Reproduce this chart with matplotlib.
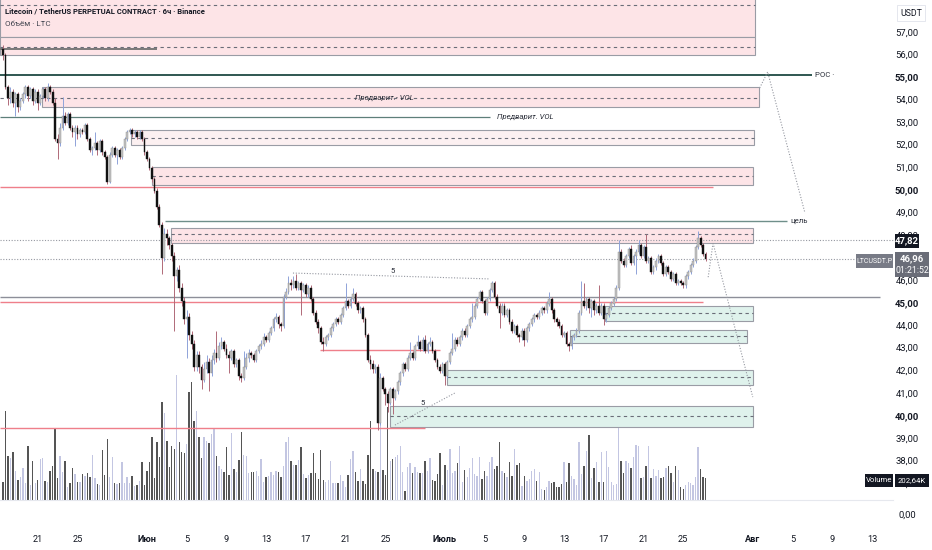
import datetime as dt
import numpy as np
import matplotlib
matplotlib.use('Agg')
import matplotlib.pyplot as plt
from matplotlib.patches import Rectangle
from matplotlib.transforms import blended_transform_factory

plt.rcParams['font.family'] = ['Roboto', 'DejaVu Sans']

# --- data: LTCUSDT.P, 6h candles ---
first_candle = dt.datetime(2022, 5, 17, 12)
first_open = 56.3

closes = [
    56.0, 54.6, 54.1, 54.4,  53.9, 54.3, 53.7, 54.0,  54.3, 54.6, 54.2, 54.5,
    54.0, 54.4, 53.9, 54.2,  54.5, 54.1, 54.6, 54.4,  53.9, 52.3, 52.1, 52.8,
    53.3, 53.0, 53.4, 52.8,  52.6, 52.8, 52.5, 52.7,  52.6, 52.9, 52.3, 51.8,
    51.9, 52.1, 51.8, 52.2,  51.7, 51.5, 50.4, 51.6,  51.9, 51.6, 51.8, 51.5,
    51.9, 52.3, 52.6, 52.7,  52.5, 52.6, 52.4, 52.6,  52.3, 51.7, 51.4, 51.0,
    50.5, 50.0, 49.3, 48.5,  47.0, 48.1, 47.9, 47.6,  47.1, 46.2, 46.5, 45.7,
    45.1, 44.3, 44.4, 43.6,  43.2, 42.2, 42.7, 42.2,  41.6, 42.1, 42.4, 41.9,
    42.5, 42.8, 42.6, 43.1,  43.3, 43.0, 42.7, 42.6,  42.9, 42.3, 42.5, 41.8,
    41.7, 42.2, 42.6, 42.8,  42.7, 42.5, 42.9, 43.1,  43.2, 43.5, 43.4, 43.7,
    43.9, 44.3, 44.4, 44.1,  44.0, 45.3, 45.5, 45.9,  45.8, 46.0, 45.7, 45.9,
    45.6, 45.8, 45.4, 45.7,  45.2, 44.6, 44.2, 43.9,  43.3, 43.2, 43.5, 43.6,
    43.9, 44.1, 44.3, 44.2,  44.5, 44.8, 45.1, 44.9,  45.2, 45.4, 45.0, 44.7,
    44.8, 44.3, 43.6, 42.5,  42.3, 42.1, 42.2, 39.7,  41.7, 41.2, 41.0, 40.6,
    41.2, 40.8, 41.1, 41.5,  41.9, 42.3, 42.1, 42.6,  42.8, 42.6, 43.1, 43.3,
    43.0, 43.4, 42.9, 43.2,  43.3, 42.9, 42.5, 42.2,  42.0, 42.3, 41.8, 42.4,
    42.8, 43.0, 43.4, 43.2,  43.5, 43.8, 43.6, 44.0,  44.3, 44.4, 44.9, 45.2,
    45.5, 45.1, 44.6, 45.2,  45.6, 45.9, 45.3, 44.9,  44.6, 44.9, 44.5, 44.7,
    44.2, 43.8, 44.0, 43.6,  43.5, 43.8, 43.4, 43.9,  44.1, 44.3, 44.5, 44.4,
    44.6, 44.8, 44.7, 45.0,  45.2, 44.7, 44.3, 44.2,  44.0, 43.6, 43.7, 43.2,
    43.1, 43.5, 43.6, 43.8,  44.6, 45.1, 44.9, 45.2,  44.8, 45.1, 44.7, 44.9,
    44.6, 44.9, 44.3, 44.5,  44.8, 45.0, 45.2, 45.7,  47.3, 46.9, 46.7, 47.1,
    47.4, 46.8, 47.1, 47.3,  47.6, 47.1, 47.5, 46.9,  47.0, 46.4, 46.6, 46.9,
    47.1, 46.8, 46.3, 46.6,  46.4, 46.1, 46.3, 45.9,  46.0, 45.9, 45.8, 46.2,
    46.4, 46.7, 46.9, 47.5,  47.9, 47.6, 47.2, 46.96,
]

highs = [
    56.45, 56.1, 54.7, 54.6,  54.5, 54.4, 54.4, 54.1,  54.4, 54.7, 54.7, 54.6,
    54.6, 54.5, 54.5, 54.3,  54.6, 54.6, 54.8, 54.7,  54.5, 54.1, 52.5, 53.0,
    54.15, 53.5, 53.5, 53.5,  52.9, 52.9, 52.9, 52.8,  52.8, 53.0, 53.0, 52.4,
    52.0, 52.6, 52.2, 52.3,  52.3, 51.8, 51.6, 51.7,  52.0, 52.0, 51.9, 51.9,
    52.0, 52.4, 52.7, 52.8,  52.8, 52.7, 52.7, 52.7,  52.7, 52.4, 51.8, 51.5,
    51.1, 50.6, 50.1, 49.4,  48.6, 48.35, 48.3, 48.0,  47.7, 47.3, 46.6, 46.7,
    45.9, 45.3, 44.7, 44.6,  43.8, 43.4, 42.9, 42.9,  42.3, 42.4, 42.7, 42.6,
    42.7, 43.0, 43.8, 43.3,  43.5, 43.4, 43.2, 42.9,  43.0, 43.0, 42.6, 42.6,
    41.9, 42.9, 42.8, 43.0,  42.9, 42.8, 43.0, 43.2,  43.4, 43.7, 43.6, 43.8,
    44.0, 44.4, 44.6, 44.5,  44.2, 45.4, 45.7, 46.2,  46.1, 46.2, 46.3, 46.0,
    46.0, 45.9, 45.9, 45.8,  45.8, 45.3, 44.7, 44.3,  44.0, 43.5, 43.6, 43.7,
    44.0, 44.2, 44.4, 44.4,  44.6, 44.9, 45.9, 45.2,  45.3, 45.7, 45.5, 45.1,
    44.9, 44.9, 44.4, 43.7,  42.7, 42.5, 42.3, 42.3,  41.9, 41.8, 41.3, 41.1,
    41.3, 41.3, 41.2, 41.6,  42.0, 42.4, 42.4, 42.7,  43.3, 42.9, 43.2, 43.6,
    43.4, 43.5, 43.6, 43.3,  43.5, 43.4, 43.0, 42.6,  42.3, 42.4, 42.4, 42.5,
    42.9, 43.7, 43.5, 43.5,  43.6, 43.9, 43.9, 44.1,  44.4, 45.0, 45.0, 45.3,
    45.6, 45.6, 45.2, 45.3,  45.7, 46.0, 46.0, 45.4,  45.0, 45.0, 45.0, 44.8,
    44.8, 44.3, 44.1, 44.1,  43.7, 43.9, 43.9, 44.0,  44.2, 44.4, 44.6, 44.6,
    44.7, 44.9, 44.9, 45.1,  45.5, 45.3, 44.8, 44.4,  44.3, 44.1, 43.8, 43.8,
    43.3, 43.6, 43.7, 43.9,  44.7, 46.0, 45.9, 45.3,  45.3, 45.2, 45.2, 45.0,
    45.8, 45.0, 45.0, 44.6,  44.9, 45.1, 45.3, 45.8,  47.8, 47.4, 47.0, 47.2,
    47.5, 47.6, 47.2, 47.4,  47.8, 47.7, 47.6, 48.1,  47.1, 47.1, 46.7, 47.0,
    47.2, 47.2, 46.9, 46.7,  46.7, 46.5, 46.4, 46.4,  46.1, 46.1, 46.0, 46.3,
    46.5, 46.8, 47.0, 47.6,  48.2, 48.0, 47.7, 47.3,
]

lows = [
    55.8, 54.5, 53.8, 53.9,  53.7, 53.3, 53.5, 53.6,  53.9, 54.1, 54.0, 54.1,
    53.8, 53.9, 53.6, 53.8,  54.1, 54.0, 54.0, 54.3,  53.8, 52.2, 51.4, 52.0,
    52.7, 52.9, 52.9, 52.7,  52.4, 52.0, 52.3, 52.4,  52.5, 52.5, 52.2, 51.7,
    51.6, 51.8, 51.6, 51.7,  51.6, 51.4, 50.3, 50.35,  51.5, 51.5, 51.2, 51.4,
    51.4, 51.8, 52.2, 52.5,  52.4, 52.4, 52.3, 52.3,  52.2, 51.6, 51.3, 50.9,
    50.4, 49.9, 49.2, 48.4,  46.3, 46.9, 47.6, 47.4,  46.9, 43.8, 46.0, 45.5,
    44.9, 44.1, 42.6, 43.4,  43.0, 42.0, 42.0, 41.9,  41.2, 41.5, 41.9, 41.1,
    41.8, 42.3, 42.4, 42.5,  43.0, 42.9, 42.6, 41.9,  42.5, 42.2, 42.2, 41.6,
    41.5, 41.6, 42.1, 42.4,  42.6, 42.4, 42.4, 42.8,  43.0, 43.1, 43.3, 43.3,
    43.6, 43.8, 44.2, 43.9,  43.8, 43.9, 45.2, 45.4,  45.6, 45.7, 45.6, 45.6,
    44.5, 45.5, 45.3, 45.3,  45.1, 44.5, 44.1, 43.7,  43.2, 42.9, 43.1, 43.4,
    43.5, 43.8, 44.0, 44.1,  44.1, 44.4, 44.7, 44.8,  44.8, 45.1, 44.9, 44.6,
    44.6, 44.2, 43.5, 42.4,  42.1, 41.9, 41.9, 39.4,  39.6, 41.1, 40.5, 40.2,
    40.5, 40.1, 40.7, 41.0,  41.4, 41.8, 42.0, 42.0,  42.5, 42.5, 42.5, 43.0,
    42.9, 42.9, 42.8, 42.8,  43.1, 42.8, 42.4, 42.1,  41.9, 41.9, 41.4, 41.7,
    42.3, 42.7, 42.9, 43.1,  43.1, 43.4, 43.5, 43.5,  43.9, 44.2, 44.3, 44.8,
    45.1, 45.0, 44.5, 44.5,  45.1, 45.5, 45.2, 44.8,  43.9, 44.5, 44.4, 44.4,
    44.1, 43.7, 43.7, 43.5,  43.3, 43.4, 43.1, 43.3,  43.8, 44.0, 44.2, 44.3,
    44.3, 44.5, 44.6, 44.6,  44.9, 44.6, 44.2, 44.0,  43.9, 43.5, 43.5, 43.1,
    42.9, 43.0, 43.4, 43.5,  43.7, 44.5, 44.8, 44.7,  44.6, 44.4, 44.5, 44.6,
    44.5, 44.5, 44.05, 44.2,  44.4, 44.7, 44.9, 45.1,  45.6, 46.8, 46.6, 46.6,
    47.0, 46.7, 46.7, 46.3,  47.2, 47.0, 47.0, 46.8,  46.8, 46.3, 46.3, 46.5,
    46.8, 46.7, 46.2, 46.2,  46.3, 46.0, 46.0, 45.8,  45.8, 45.8, 45.7, 45.7,
    46.1, 46.3, 46.6, 46.8,  47.4, 47.5, 47.1, 46.9,
]

volumes_k = [
    166, 819, 405, 386, 442, 267, 184, 212, 294, 156,
    497, 138, 359, 156, 184, 377, 386, 175, 166, 267,
    313, 653, 202, 405, 258, 359, 120, 156, 294, 239,
    166, 166, 239, 221, 248, 212, 414, 202, 147, 138,
    460, 230, 561, 212, 396, 156, 147, 156, 350, 156,
    212, 156, 221, 129, 138, 175, 350, 138, 267, 350,
    580, 202, 534, 396, 902, 800, 543, 304, 497, 469,
    1150, 534, 442, 432, 515, 994, 1086, 727, 819, 580,
    386, 580, 543, 524, 607, 653, 405, 313, 285, 258,
    488, 230, 616, 285, 258, 368, 626, 414, 405, 248,
    258, 258, 267, 221, 377, 166, 212, 221, 258, 230,
    267, 258, 212, 313, 534, 580, 359, 322, 322, 368,
    488, 239, 202, 230, 248, 432, 248, 193, 460, 184,
    166, 184, 359, 156, 156, 156, 230, 175, 120, 230,
    377, 451, 258, 175, 285, 175, 147, 414, 727, 285,
    267, 258, 828, 276, 230, 856, 359, 377, 396, 414,
    497, 258, 83, 304, 340, 248, 304, 258, 248, 248,
    359, 267, 386, 184, 175, 239, 432, 138, 322, 276,
    469, 248, 267, 340, 497, 166, 276, 212, 294, 386,
    239, 221, 396, 193, 267, 221, 350, 396, 285, 313,
    534, 267, 248, 212, 350, 221, 469, 322, 340, 129,
    221, 175, 193, 267, 285, 175, 258, 101, 92, 120,
    175, 156, 166, 120, 120, 147, 350, 166, 340, 221,
    193, 138, 534, 239, 313, 451, 598, 202, 294, 350,
    166, 442, 166, 451, 304, 166, 138, 147, 865, 359,
    248, 359, 340, 294, 396, 506, 497, 202, 212, 313,
    497, 202, 285, 221, 276, 202, 212, 294, 313, 248,
    166, 313, 276, 120, 101, 138, 166, 156, 138, 212,
    488, 285, 212, 202.64,
]

# 47,00 sits under the live price tag, so it is not drawn
price_ticks = [37, 38, 39, 40, 41, 42, 43, 44, 45, 46, 48, 49, 50, 51, 52, 53, 54, 55, 56, 57]
date_ticks = [(dt.date(2022, 5, 21), '21'), (dt.date(2022, 5, 25), '25'),
              (dt.date(2022, 6, 1), 'Июн'), (dt.date(2022, 6, 5), '5'),
              (dt.date(2022, 6, 9), '9'), (dt.date(2022, 6, 13), '13'),
              (dt.date(2022, 6, 17), '17'), (dt.date(2022, 6, 21), '21'),
              (dt.date(2022, 6, 25), '25'), (dt.date(2022, 7, 1), 'Июль'),
              (dt.date(2022, 7, 5), '5'), (dt.date(2022, 7, 9), '9'),
              (dt.date(2022, 7, 13), '13'), (dt.date(2022, 7, 17), '17'),
              (dt.date(2022, 7, 21), '21'), (dt.date(2022, 7, 25), '25'),
              (dt.date(2022, 8, 1), 'Авг'), (dt.date(2022, 8, 5), '5'),
              (dt.date(2022, 8, 9), '9'), (dt.date(2022, 8, 13), '13')]

W, H = 932, 550
jun1 = dt.datetime(2022, 6, 1)

n = len(closes)
opens = np.array([first_open] + closes[:-1])
c = np.array(closes)
hi = np.maximum(np.array(highs), np.maximum(opens, c))
lo = np.minimum(np.array(lows), np.minimum(opens, c))
days = np.array([(first_candle + dt.timedelta(hours=6 * i) - jun1).total_seconds() / 86400
                 for i in range(n)])
up = c >= opens

fig = plt.figure(figsize=(W / 100, H / 100), dpi=100)
fig.patch.set_facecolor('white')
ax_vol = fig.add_axes([0, 50 / H, 1, 500 / H])
ax = fig.add_axes([0, 50 / H, 1, 500 / H])
ax.set_zorder(ax_vol.get_zorder() + 1)
ax.patch.set_visible(False)
for a in (ax, ax_vol):
    a.set_xlim(-14.80, 79.05)
    a.axis('off')
ax.set_ylim(55 - 422 / 22.55, 55 + 78 / 22.55)
ax_vol.set_ylim(0, 500 * 9.21)

# volume
ax_vol.bar(days, volumes_k, width=0.14, color=np.where(up, '#c3c6e2', '#555555'), linewidth=0)

# zones: (x0, x1, low, high, mid, fill)
pink, pale, green = '#fde4e7', '#fcf0f1', '#dff2ec'
zones = [
    (-14.8, 61.2, 56.84, 58.9, 58.24, pink),
    (-14.8, 61.2, 56.02, 56.82, 56.37, pink),
    (-10.6, 61.6, 53.71, 54.60, None, pink),
    (-1.6, 61.1, 52.03, 52.69, 52.34, pale),
    (0.5, 61.0, 50.25, 51.05, 50.65, pink),
    (2.4, 61.0, 47.68, 48.35, 48.08, pink),
    (46.1, 61.0, 44.22, 44.89, 44.58, green),
    (42.6, 60.4, 43.25, 43.82, 43.56, green),
    (30.2, 61.0, 41.39, 42.05, 41.74, green),
    (24.5, 61.0, 39.52, 40.45, 40.01, green),
]
for x0, x1, z0, z1, mid, fill in zones:
    ax.add_patch(Rectangle((x0, z0), x1 - x0, z1 - z0, facecolor=fill,
                           edgecolor='#9a9ca5', linewidth=0.8, zorder=1))
    if mid is not None:
        ax.hlines(mid, x0, x1, colors='#6a6d78', linestyles=(0, (3, 3)), linewidth=0.8, zorder=1.5)
ax.hlines(54.11, -14.8, 61.6, colors='#6a6d78', linestyles=(0, (3, 3)), linewidth=0.8, zorder=1.5)

# levels
ax.hlines(56.29, -14.8, 1.0, colors='#7a7a7a', linewidth=1.4, zorder=1.6)
ax.hlines(55.13, -14.8, 67.0, colors='#1f4a43', linewidth=1.3, zorder=1.6)
ax.hlines(53.27, -14.8, 34.5, colors='#5d7f7a', linewidth=0.9, zorder=1.6)
ax.hlines(48.66, 1.8, 64.45, colors='#6f8f8a', linewidth=1.0, zorder=1.6)
ax.hlines(45.30, -14.8, 73.8, colors='#8d8f99', linewidth=1.0, zorder=1.6)
red = '#ef7f8a'
ax.hlines(50.17, -14.8, 57.0, colors=red, linewidth=1.0, zorder=1.6)
ax.hlines(45.08, -14.8, 56.0, colors=red, linewidth=1.0, zorder=1.6)
ax.hlines(42.94, 17.4, 29.5, colors=red, linewidth=1.0, zorder=1.6)
ax.hlines(39.48, -14.8, 28.0, colors=red, linewidth=1.0, zorder=1.6)

dot = dict(color='#9598a1', linestyle=(0, (1, 1.5)), linewidth=0.8, zorder=1.7)
ax.hlines(47.82, -14.8, 75.3, colors='#9598a1', linestyles=(0, (1, 1.5)), linewidth=0.8, zorder=1.7)
ax.hlines(46.96, -14.8, 71.5, colors='#9598a1', linestyles=(0, (1, 1.5)), linewidth=0.8, zorder=1.7)
ax.plot([14.7, 34.5], [46.35, 46.09], **dot)
ax.plot([24.97, 31.0], [39.61, 41.03], **dot)
ax.plot([57.0, 61.0], [47.68, 40.85], **dot)
ax.plot([57.0, 56.5], [47.68, 46.13], **dot)
ax.plot([61.7, 62.5, 66.26], [54.56, 55.27, 49.01], **dot)

small = dict(fontsize=5.6, color='#2a2e39', va='center', zorder=6)
ax.text(20.95, 54.11, 'Предварит.- VOL', style='italic', **small)
ax.text(35.25, 53.27, 'Предварит. VOL', style='italic', **small)
ax.text(67.3, 55.13, 'POC ·', **small)
ax.text(64.75, 48.66, 'цель', **small)
ax.text(24.7, 46.44, '5', ha='center', **small)
ax.text(27.8, 40.59, '5', ha='center', **small)

# candles
ax.vlines(days, lo, hi, colors=np.where(up, '#8fa3d9', '#b06a78'), linewidth=0.7, zorder=2.5)
body_lo = np.minimum(opens, c)
body_h = np.maximum(np.abs(c - opens), 0.04)
ax.bar(days, body_h, bottom=body_lo, width=0.18, color=np.where(up, '#c4c4c4', '#111111'),
       edgecolor=np.where(up, '#8a8a8a', '#111111'), linewidth=0.3, zorder=3)


# header and scales
def ypix(p):
    return 78 + (55 - p) * 22.55


def ftext(x, y, s, **kw):
    return fig.text(x / W, 1 - y / H, s, **kw)


def fbox(x, y, w, h, color, **kw):
    fig.patches.append(Rectangle((x / W, 1 - (y + h) / H), w / W, h / H, transform=fig.transFigure,
                                 facecolor=color, zorder=4, **kw))


ftext(5, 11, 'Litecoin / TetherUS PERPETUAL CONTRACT · 6ч · Binance', fontsize=5.5,
      fontweight='bold', color='#131722', va='center')
ftext(5, 24, 'Объём · LTC', fontsize=5.8, color='#434651', va='center')

for p in price_ticks:
    ftext(907, ypix(p), f'{p},00', fontsize=6.8, color='#131722', ha='center', va='center',
          fontweight='bold' if p % 5 == 0 else 'normal', zorder=3)
ftext(907, 515, '0,00', fontsize=6.8, color='#131722', ha='center', va='center')
fbox(897, 5, 28, 16, 'white', edgecolor='#e0e3eb', linewidth=0.6)
ftext(911, 13, 'USDT', fontsize=6.3, color='#131722', ha='center', va='center', zorder=5)

fbox(895, 234, 24, 14, '#131722')
ftext(907, 241, '47,82', fontsize=6.8, color='white', fontweight='bold', ha='center', va='center', zorder=5)
fbox(856, 254, 37, 14, '#787b86')
ftext(874.5, 261, 'LTCUSDT.P', fontsize=5.0, color='white', ha='center', va='center', zorder=5)
fbox(895, 252, 34, 25, '#6a6d78')
ftext(912, 259, '46,96', fontsize=6.8, color='white', fontweight='bold', ha='center', va='center', zorder=5)
ftext(912, 270, '01:21:52', fontsize=6.3, color='white', ha='center', va='center', zorder=5)
fbox(865, 474, 28, 13, '#131722')
ftext(879, 480.5, 'Volume', fontsize=5.6, color='white', ha='center', va='center', zorder=5)
fbox(895, 474, 34, 13, '#131722')
ftext(912, 480.5, '202,64K', fontsize=5.6, color='white', ha='center', va='center', zorder=5)

fig.add_artist(plt.Line2D([0, 893 / W], [1 - 500 / H] * 2, color='#e6e8ee', linewidth=0.8))

tr = blended_transform_factory(ax.transData, fig.transFigure)
for d, label in date_ticks:
    x = (dt.datetime.combine(d, dt.time()) - jun1).days
    fig.text(x, 1 - 540 / H, label, transform=tr, fontsize=6.6, color='#131722', ha='center',
             va='center', fontweight='bold' if not label.isdigit() else 'normal')

fig.savefig('out.png', dpi=100)
